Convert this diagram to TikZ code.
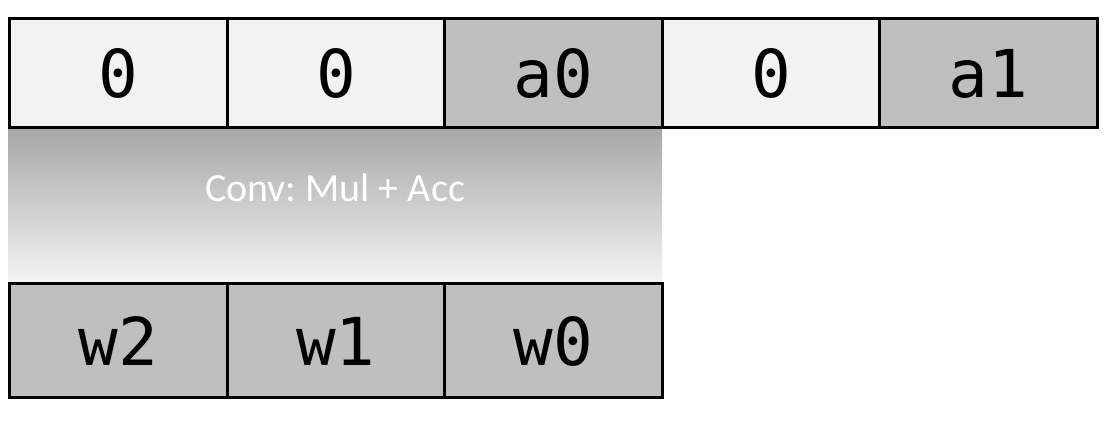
\documentclass[tikz,border=0pt]{standalone}
\usepackage{fontspec}
\setmainfont{Carlito}
\newfontfamily\cellmono{DejaVu Sans Mono}
\definecolor{litec}{HTML}{F2F2F2}
\definecolor{darkc}{HTML}{BFBFBF}
\definecolor{gradtop}{HTML}{A6A6A6}
\definecolor{gradbot}{HTML}{F4F4F4}
\frenchspacing
\begin{document}
\begin{tikzpicture}[x=1pt,y=-1pt,
  cell/.style={draw=black, line width=3pt, minimum width=217.6pt, minimum height=109pt,
    inner sep=0pt, anchor=north west, font=\cellmono\fontsize{66}{66}\selectfont},
  wcell/.style={cell, minimum height=114pt},
  lite/.style={fill=litec},
  dark/.style={fill=darkc}]
\useasboundingbox (0,0) rectangle (1104,427);
% gradient band
\node[shade, top color=gradtop, bottom color=gradbot, minimum width=654pt, minimum height=156pt,
  inner sep=0pt, anchor=north west] (band) at (8,126.5) {};
\node[text=white, font=\fontsize{40}{40}\selectfont] (conv) at (335,188) {Conv: Mul + Acc};
% top row
\node[cell, lite] (t0) at (8,17.5) {0};
\node[cell, lite] (t1) at (225.6,17.5) {0};
\node[cell, dark] (t2) at (443.2,17.5) {a0};
\node[cell, lite] (t3) at (660.8,17.5) {0};
\node[cell, dark] (t4) at (878.4,17.5) {a1};
% bottom row
\node[wcell, dark] (w2) at (8,282.5) {w2};
\node[wcell, dark] (w1) at (225.6,282.5) {w1};
\node[wcell, dark] (w0) at (443.2,282.5) {w0};
\end{tikzpicture}
\end{document}
